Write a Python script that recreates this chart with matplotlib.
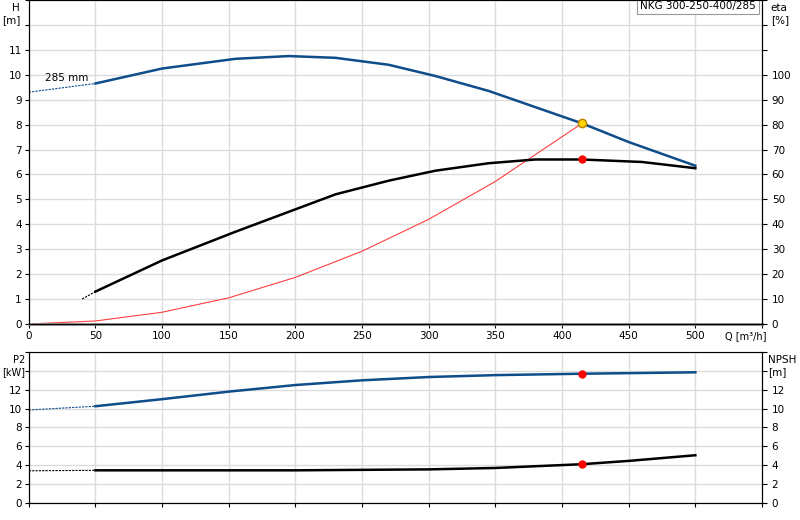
import matplotlib
matplotlib.use("Agg")
import matplotlib.pyplot as plt

# pump head H [m]
q_h = [50, 100, 155, 195, 230, 270, 305, 345, 380, 415, 450, 500]
h = [9.65, 10.25, 10.64, 10.75, 10.68, 10.4, 9.95, 9.35, 8.7, 8.05, 7.3, 6.35]
q_h_ext = [0, 50]
h_ext = [9.3, 9.65]

# efficiency eta [%]
q_eta = [50, 100, 155, 195, 230, 270, 305, 345, 380, 415, 460, 500]
eta = [13, 25.5, 37, 45, 52, 57.5, 61.5, 64.5, 66, 66, 65, 62.5]
q_eta_ext = [40, 50]
eta_ext = [10, 13]

# system curve
q_sys = [0, 50, 100, 150, 200, 250, 300, 350, 415]
h_sys = [0, 0.12, 0.47, 1.05, 1.87, 2.92, 4.2, 5.72, 8.05]

# power P2 [kW]
q_p = [50, 100, 150, 200, 250, 300, 350, 415, 500]
p2 = [10.25, 11.0, 11.8, 12.5, 13.0, 13.35, 13.55, 13.7, 13.85]
q_p_ext = [0, 50]
p2_ext = [9.85, 10.25]

# NPSH [m]
q_n = [50, 100, 200, 300, 350, 415, 450, 500]
npsh = [3.45, 3.45, 3.45, 3.55, 3.7, 4.1, 4.45, 5.05]
q_n_ext = [0, 50]
npsh_ext = [3.4, 3.45]

duty_q, duty_h, duty_eta, duty_p2, duty_npsh = 415, 8.05, 66, 13.7, 4.1

BLUE = "#0f4c8a"
GRID = "#dcdcdc"
plt.rcParams["font.size"] = 7.5

fig = plt.figure(figsize=(8, 5.2), dpi=100)
ax = fig.add_axes([0.036, 0.377, 0.9165, 0.623])
ax2 = ax.twinx()
bx = fig.add_axes([0.036, 0.033, 0.9165, 0.29])
bx2 = bx.twinx()

for a in (ax, bx):
    a.set_xlim(0, 550)
    a.set_xticks(range(0, 551, 50))
    a.grid(True, color=GRID, lw=1)
    a.set_axisbelow(True)
    a.spines["top"].set_color("#aaaaaa")
    a.tick_params(length=3, pad=2)

ax.set_ylim(0, 13)
ax.set_yticks(range(0, 14))
ax.set_yticklabels([str(i) if i <= 11 else "" for i in range(14)])
ax.set_xticklabels([str(i) if i <= 500 else "" for i in range(0, 551, 50)])
ax2.set_ylim(0, 130)
ax2.set_yticks(range(0, 131, 10))
ax2.set_yticklabels([str(i) if i <= 100 else "" for i in range(0, 131, 10)])
ax.spines["bottom"].set_color("#888888")
ax.spines["bottom"].set_linewidth(2)

ax.plot(q_h_ext, h_ext, color=BLUE, lw=0.8, ls=(0, (2, 1)))
ax.plot(q_h, h, color=BLUE, lw=1.8)
ax.plot(q_sys, h_sys, color="#ff4040", lw=0.8)
ax2.plot(q_eta_ext, eta_ext, color="black", lw=0.8, ls=(0, (2, 1)))
ax2.plot(q_eta, eta, color="black", lw=1.8)
ax2.plot(duty_q, duty_eta, "o", color="red", ms=5)
ax.plot(duty_q, duty_h, "o", color="#ffd400", mec="#c08000", ms=6, zorder=5)
ax.text(12, 9.75, "285 mm", fontsize=7.5)
ax.text(-0.012, 0.99, "H\n[m]", transform=ax.transAxes, ha="right", va="top", fontsize=7.5)
ax2.text(1.012, 0.99, "eta\n[%]", transform=ax2.transAxes, ha="left", va="top", fontsize=7.5)
ax.text(538, -0.3, "Q [m³/h]", ha="center", va="top", fontsize=7)
ax.text(0.992, 0.997, "NKG 300-250-400/285", transform=ax.transAxes, ha="right", va="top",
        fontsize=7.5, bbox=dict(boxstyle="square,pad=0.3", fc="white", ec="#999999", lw=0.8))

bx.set_ylim(0, 16)
bx.set_yticks(range(0, 17, 2))
bx.set_yticklabels([str(i) if i <= 12 else "" for i in range(0, 17, 2)])
bx.set_xticklabels([])
bx2.set_ylim(0, 16)
bx2.set_yticks(range(0, 17, 2))
bx2.set_yticklabels([str(i) if i <= 12 else "" for i in range(0, 17, 2)])
bx.plot(q_p_ext, p2_ext, color=BLUE, lw=0.8, ls=(0, (2, 1)))
bx.plot(q_p, p2, color=BLUE, lw=1.8)
bx.plot(duty_q, duty_p2, "o", color="red", ms=5)
bx2.plot(q_n_ext, npsh_ext, color="black", lw=0.8, ls=(0, (2, 1)))
bx2.plot(q_n, npsh, color="black", lw=1.8)
bx2.plot(duty_q, duty_npsh, "o", color="red", ms=5)
bx.text(-0.005, 0.98, "P2\n[kW]", transform=bx.transAxes, ha="right", va="top", fontsize=7)
bx2.text(1.008, 0.98, "NPSH\n[m]", transform=bx2.transAxes, ha="left", va="top", fontsize=7.5)

fig.savefig("out.png", dpi=100)
